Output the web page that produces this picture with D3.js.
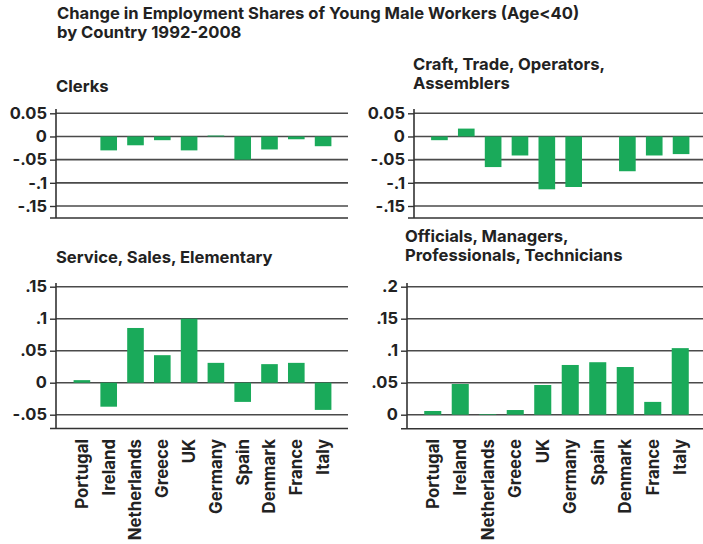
<!DOCTYPE html>
<html>
<head>
<meta charset="utf-8">
<script src="https://cdn.jsdelivr.net/npm/d3@7"></script>
<style>
  body { margin: 0; background: #fff; }
  text { font-family: Inter, sans-serif; font-weight: 700; fill: #222; }
</style>
</head>
<body>
<div id="chart"></div>
<script>
// countries in chart order
var countries = ["Portugal", "Ireland", "Netherlands", "Greece", "UK",
                 "Germany", "Spain", "Denmark", "France", "Italy"];

// values
var clerks    = [0, -0.030, -0.019, -0.008, -0.030, 0.002, -0.050, -0.028, -0.006, -0.021];
var craft     = [-0.008, 0.017, -0.066, -0.041, -0.114, -0.109, 0, -0.075, -0.041, -0.038];
var service   = [0.004, -0.0375, 0.0855, 0.043, 0.100, 0.031, -0.030, 0.029, 0.031, -0.0425];
var officials = [0.0058, 0.048, 0.001, 0.0073, 0.0464, 0.0777, 0.082, 0.0745, 0.020, 0.104];

// tick values and their printed labels
var topTicks       = [0.05, 0, -0.05, -0.1, -0.15];
var topTickLabels  = ["0.05", "0", "-.05", "-.1", "-.15"];
var servTicks      = [0.15, 0.1, 0.05, 0, -0.05];
var servTickLabels = [".15", ".1", ".05", "0", "-.05"];
var offTicks       = [0.2, 0.15, 0.1, 0.05, 0];
var offTickLabels  = [".2", ".15", ".1", ".05", "0"];

var width = 703, height = 544;
var green = "#1aaa5a";
var fontSize = 16.6;

var svg = d3.select("#chart")
  .append("svg")
    .attr("width", width)
    .attr("height", height);

// main title, one text per line
["Change in Employment Shares of Young Male Workers (Age<40)", "by Country 1992-2008"]
  .forEach(function(line, i) {
    svg.append("text")
      .attr("x", 57)
      .attr("y", 19 + i * 19)
      .attr("font-size", fontSize)
      .text(line);
  });

// panel layout: axis x, right end, y scale, band range
var panels = [
  {title: ["Clerks"], tx: 56, ty: 92, data: clerks,
   ax: 56, right: 348, dom: [-0.15, 0.05], yr: [206, 113.3], top: 109, bottom: 218,
   xr: [68.5, 336.5], ticks: topTicks, labels: topTickLabels, xlabels: false},
  {title: ["Craft, Trade, Operators,", "Assemblers"], tx: 413, ty: 70, data: craft,
   ax: 414, right: 703, dom: [-0.15, 0.05], yr: [206, 113.3], top: 109, bottom: 218,
   xr: [426, 694.5], ticks: topTicks, labels: topTickLabels, xlabels: false},
  {title: ["Service, Sales, Elementary"], tx: 56, ty: 263, data: service,
   ax: 56, right: 348, dom: [-0.05, 0.15], yr: [414.7, 286.7], top: 283, bottom: 428.5,
   xr: [68.5, 336.5], ticks: servTicks, labels: servTickLabels, xlabels: true},
  {title: ["Officials, Managers,", "Professionals, Technicians"], tx: 405, ty: 242, data: officials,
   ax: 407, right: 703, dom: [0, 0.2], yr: [414.7, 286.7], top: 283, bottom: 428.7,
   xr: [419, 694], ticks: offTicks, labels: offTickLabels, xlabels: true}
];

panels.forEach(function(p) {
  var g = svg.append("g");

  var y = d3.scaleLinear().domain(p.dom).range(p.yr);
  var x = d3.scaleBand().domain(countries).range(p.xr)
    .paddingInner(0.38).paddingOuter(0.19);

  // panel title
  p.title.forEach(function(line, i) {
    g.append("text")
      .attr("x", p.tx)
      .attr("y", p.ty + i * 19)
      .attr("font-size", fontSize)
      .text(line);
  });

  // gridlines
  g.append("g").selectAll("line")
    .data(p.ticks)
    .enter()
    .append("line")
      .attr("x1", p.ax).attr("x2", p.right)
      .attr("y1", function(d) { return y(d); })
      .attr("y2", function(d) { return y(d); })
      .attr("stroke", "#4a4a4a")
      .attr("stroke-width", 1.6);

  // bottom frame line
  g.append("line")
    .attr("x1", p.ax - 6).attr("x2", p.right)
    .attr("y1", p.bottom).attr("y2", p.bottom)
    .attr("stroke", "#333").attr("stroke-width", 1.6);

  // bars
  g.append("g").selectAll("rect")
    .data(p.data)
    .enter()
    .append("rect")
      .attr("x", function(d, i) { return x(countries[i]); })
      .attr("width", x.bandwidth())
      .attr("y", function(d) { return y(Math.max(0, d)); })
      .attr("height", function(d) { return Math.abs(y(d) - y(0)); })
      .attr("fill", green);

  // y axis
  var axis = d3.axisLeft(y)
    .tickValues(p.ticks)
    .tickSize(6)
    .tickPadding(3)
    .tickFormat(function(d, i) { return p.labels[i]; });
  var ag = g.append("g")
    .attr("transform", "translate(" + p.ax + ",0)")
    .call(axis);
  ag.select(".domain").remove();
  ag.selectAll(".tick line").attr("stroke", "#333").attr("stroke-width", 1.4);
  ag.selectAll(".tick text")
    .attr("font-size", 16.5)
    .attr("fill", "#222")
    .style("font-family", "Inter, sans-serif")
    .style("font-weight", 700);
  g.append("line")
    .attr("x1", p.ax).attr("x2", p.ax)
    .attr("y1", p.top).attr("y2", p.bottom)
    .attr("stroke", "#333").attr("stroke-width", 1.6);

  // rotated country labels
  if (p.xlabels) {
    g.append("g").selectAll("text")
      .data(countries)
      .enter()
      .append("text")
        .attr("transform", function(d) {
          return "translate(" + (x(d) + x.bandwidth() / 2) + ",439) rotate(-90)";
        })
        .attr("text-anchor", "end")
        .attr("dy", "0.35em")
        .attr("font-size", 16.8)
        .text(function(d) { return d; });
  }
});
</script>
</body>
</html>
